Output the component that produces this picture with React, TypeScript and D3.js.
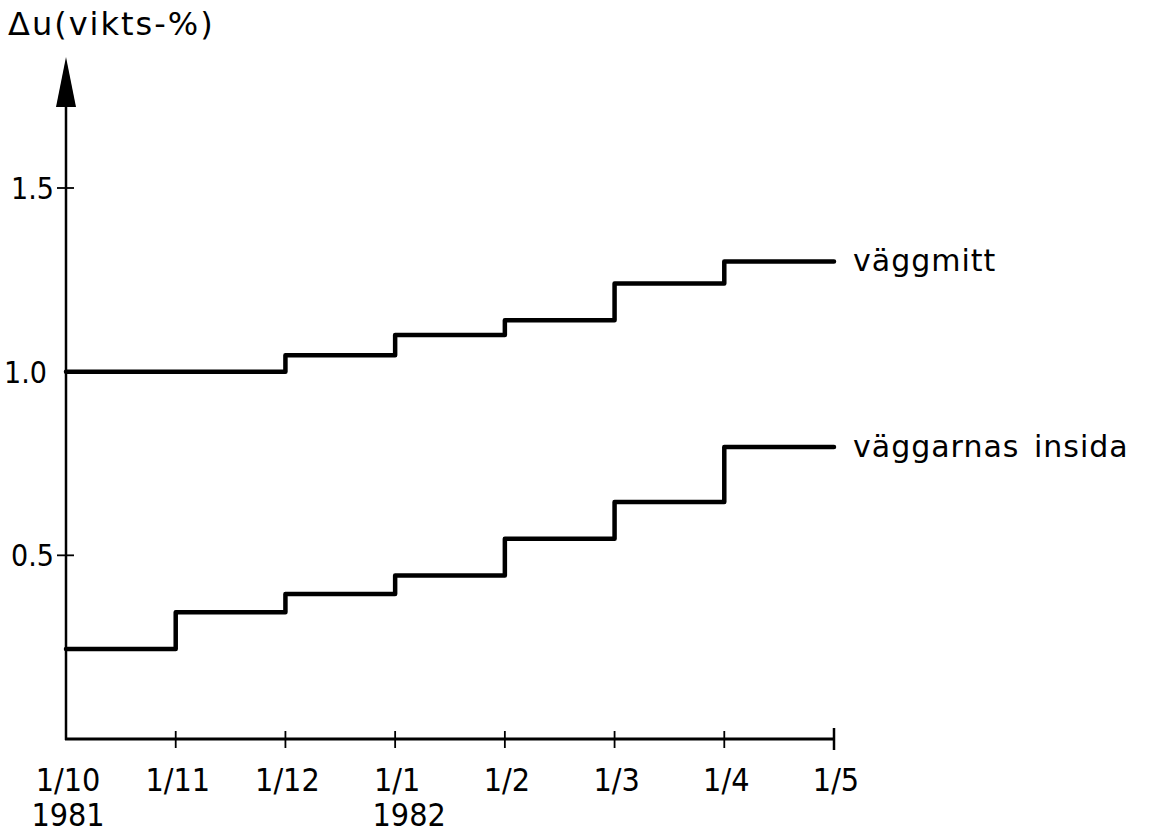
import React from "react";
import * as d3 from "d3";

const months = ["1/10", "1/11", "1/12", "1/1", "1/2", "1/3", "1/4", "1/5"];
const years = [
  { month: "1/10", label: "1981" },
  { month: "1/1", label: "1982" },
];
const yTicks = [0.5, 1.0, 1.5];
// values held from each month start to the next month start
const vaggmitt = [1.0, 1.0, 1.045, 1.1, 1.14, 1.24, 1.3];
const insida = [0.245, 0.345, 0.395, 0.445, 0.545, 0.645, 0.795];
const seriesLabels = ["väggmitt", "väggarnas insida"];
const yTitle = "Δu(vikts-%)";

const W = 1150;
const H = 834;
const FONT = "'DejaVu Sans', sans-serif";
const NARROW = "'DejaVu Sans Condensed', 'DejaVu Sans', sans-serif";

export default function App() {
  const x = d3.scaleLinear().domain([0, months.length - 1]).range([66, 834]);
  const y = d3.scaleLinear().domain([0, 1.5]).range([739, 188]);

  const stepLine = (vals: number[]) => {
    const pts: [number, number][] = vals.map((v, i) => [i, v]);
    pts.push([months.length - 1, vals[vals.length - 1]]);
    return d3
      .line<[number, number]>()
      .x((d) => x(d[0]))
      .y((d) => y(d[1]))
      .curve(d3.curveStepAfter)(pts) as string;
  };

  const series = [vaggmitt, insida];

  return (
    <svg
      width={W}
      height={H}
      style={{ position: "absolute", left: 0, top: 0, background: "#fff" }}
    >
      {/* y axis */}
      <line x1={x(0)} x2={x(0)} y1={y(0) + 1} y2={100} stroke="#000" strokeWidth={2.5} />
      <path d={`M${x(0)},57 L${x(0) - 10},107 L${x(0) + 10},107 Z`} fill="#000" />
      {/* x axis */}
      <line x1={x(0) - 1} x2={x(months.length - 1)} y1={y(0)} y2={y(0)} stroke="#000" strokeWidth={3} />
      {months.map((m, i) => (
        <g key={m}>
          {i > 0 && (
            <line
              x1={x(i)}
              x2={x(i)}
              y1={y(0) - (i === months.length - 1 ? 11 : 8)}
              y2={y(0) + (i === months.length - 1 ? 11 : 9)}
              stroke="#000"
              strokeWidth={i === months.length - 1 ? 2.5 : 1.8}
            />
          )}
          <text
            x={x(i) + 2}
            y={791}
            textAnchor="middle"
            fontFamily={NARROW}
            fontSize={32}
            fill="#000"
          >
            {m}
          </text>
        </g>
      ))}
      {years.map((yr) => {
        const i = months.indexOf(yr.month);
        return (
          <text
            key={yr.label}
            x={x(i) + (i === 0 ? 2 : 14)}
            y={826}
            textAnchor="middle"
            fontFamily={NARROW}
            fontSize={32}
            fill="#000"
          >
            {yr.label}
          </text>
        );
      })}
      {/* y ticks */}
      {yTicks.map((t) => (
        <g key={t}>
          {t !== 1.0 && (
            <line x1={x(0) - 9} x2={x(0) + 8} y1={y(t)} y2={y(t)} stroke="#000" strokeWidth={1.8} />
          )}
          <text
            x={t === 1.0 ? 47 : 54}
            y={y(t) + 11}
            textAnchor="end"
            fontFamily={NARROW}
            fontSize={30}
            fill="#000"
          >
            {t.toFixed(1)}
          </text>
        </g>
      ))}
      <text x={8} y={35} fontFamily={FONT} fontSize={32} fill="#000" letterSpacing={2}>
        {yTitle}
      </text>
      {/* series */}
      {series.map((s, k) => (
        <g key={k}>
          <path
            d={stepLine(s)}
            fill="none"
            stroke="#000"
            strokeWidth={4.5}
            strokeLinejoin="round"
            strokeLinecap="round"
          />
          <text
            x={853}
            y={y(s[s.length - 1]) + 10}
            fontFamily={FONT}
            fontSize={30}
            letterSpacing={1}
            wordSpacing={4}
            fill="#000"
          >
            {seriesLabels[k]}
          </text>
        </g>
      ))}
    </svg>
  );
}
